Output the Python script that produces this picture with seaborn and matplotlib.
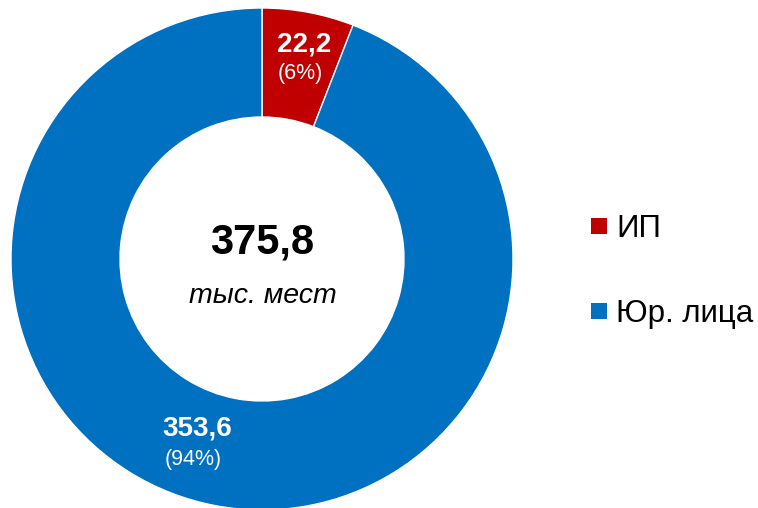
import matplotlib
matplotlib.use("Agg")
import matplotlib.pyplot as plt
import seaborn as sns
import numpy as np

categories = ["ИП", "Юр. лица"]
values = [22.2, 353.6]
percent_labels = ["(6%)", "(94%)"]
value_labels = ["22,2", "353,6"]
total_label = "375,8"
unit_label = "тыс. мест"
colors = ["#C00000", "#0070C0"]

sns.set_theme(style="white")
plt.rcParams["font.family"] = ["Liberation Sans", "DejaVu Sans"]

W, H = 758, 508
fig = plt.figure(figsize=(W / 100, H / 100), dpi=100)
ax = fig.add_axes([0, 0, 1, 1])

cx, cy = 262, H - 259
R_out, R_in = 251, 142
ax.pie(values, colors=colors, startangle=90, counterclock=False,
       radius=R_out, center=(cx, cy),
       wedgeprops=dict(width=R_out - R_in, edgecolor="white", linewidth=1))
ax.set_xlim(0, W)
ax.set_ylim(0, H)
ax.set_aspect("equal")
ax.axis("off")

# slice labels (positions in image pixels)
label_pos = [((304, 44), (300, 74)), ((197, 429), (193, 459))]
for (vp, pp), vl, pl in zip(label_pos, value_labels, percent_labels):
    ax.text(vp[0], H - vp[1], vl, color="white", fontsize=20, fontweight="bold",
            ha="center", va="center")
    ax.text(pp[0], H - pp[1], pl, color="white", fontsize=15.5,
            ha="center", va="center")

# center text
ax.text(cx, H - 243, total_label, fontsize=30, fontweight="bold", color="black",
        ha="center", va="center")
ax.text(cx + 1, H - 296, unit_label, fontsize=20.5, fontstyle="italic", color="black",
        ha="center", va="center")

# legend
leg_y = [226, 311]
for c, lab, y in zip(colors, categories, leg_y):
    ax.scatter([599], [H - y], marker="s", s=16 * 16 * 0.52, color=c, linewidths=0)
    ax.text(616, H - y - 3, lab, fontsize=22.5, color="black", ha="left", va="center")

fig.savefig("out.png", dpi=100)
